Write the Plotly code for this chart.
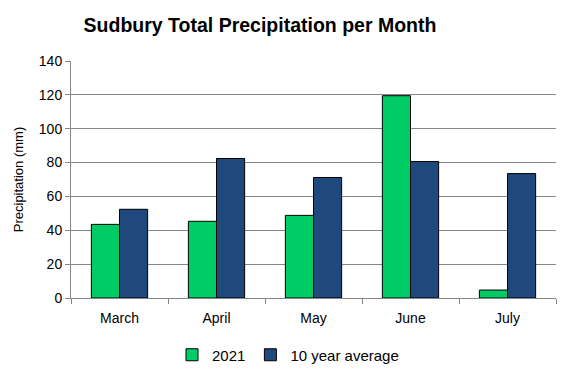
import plotly.graph_objects as go

months = ["March", "April", "May", "June", "July"]
precip_2021 = [43.5, 45.3, 48.8, 119.5, 4.7]
precip_10yr = [52.4, 82.4, 71.2, 80.6, 73.5]
y_ticks = [0, 20, 40, 60, 80, 100, 120, 140]

font_family = "Liberation Sans, Arial, sans-serif"

# page body has an 8px default margin; figure sized to fit the 567x378 window
W, H = 559, 370

fig = go.Figure()
fig.add_trace(go.Bar(x=months, y=precip_2021, name="2021",
                     marker=dict(color="#00CC66", line=dict(color="black", width=1))))
fig.add_trace(go.Bar(x=months, y=precip_10yr, name="10 year average",
                     marker=dict(color="#1F497D", line=dict(color="black", width=1))))

fig.update_layout(
    width=W, height=H,
    margin=dict(l=63, r=11, t=53, b=80),
    paper_bgcolor="white", plot_bgcolor="white",
    font=dict(family=font_family, size=13, color="black"),
    title=dict(text="<b>Sudbury Total Precipitation per Month</b>",
               x=252/W, xanchor="center", y=1-17/H, yanchor="middle",
               font=dict(size=19.5, family=font_family, color="black")),
    barmode="group", bargap=0.42, bargroupgap=0,
    legend=dict(orientation="h", xref="container", yref="container",
                x=280/W, xanchor="center", y=1-347/H, yanchor="middle",
                font=dict(size=15), itemwidth=30, tracegroupgap=0),
    xaxis=dict(showline=True, linecolor="#868686", linewidth=1,
               ticks="outside", ticklen=5, tickcolor="#868686",
               tickson="boundaries", tickfont=dict(size=14), automargin=False,
               ticklabelstandoff=7),
    yaxis=dict(range=[0, 140], tickvals=y_ticks, showgrid=True,
               gridcolor="#868686", gridwidth=1,
               showline=True, linecolor="#868686", linewidth=1,
               ticks="outside", ticklen=5, tickcolor="#868686",
               tickfont=dict(size=14), zeroline=False, automargin=False,
               title=dict(text="Precipitation (mm)", font=dict(size=13), standoff=12)),
)

fig.write_html("out.html")
